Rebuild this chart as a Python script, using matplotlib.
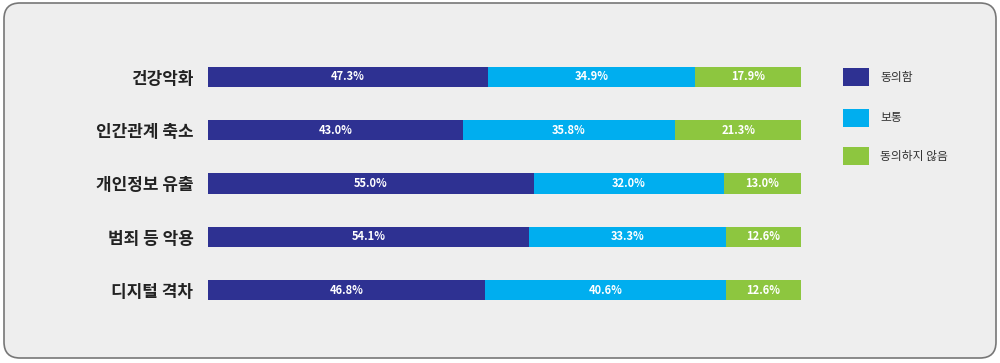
import numpy as np
import matplotlib
matplotlib.use('Agg')
import matplotlib.pyplot as plt
from matplotlib.patches import FancyBboxPatch, Rectangle
from matplotlib.transforms import IdentityTransform

plt.rcParams['font.family'] = ['Noto Sans CJK KR', 'DejaVu Sans']

# data
categories = ['건강악화', '인간관계 축소', '개인정보 유출', '범죄 등 악용', '디지털 격차']
agree = [47.3, 43.0, 55.0, 54.1, 46.8]
neutral = [34.9, 35.8, 32.0, 33.3, 40.6]
disagree = [17.9, 21.3, 13.0, 12.6, 12.6]
series_names = ['동의함', '보통', '동의하지 않음']
colors = ['#2e3192', '#00aeef', '#8dc63f']

fig = plt.figure(figsize=(10, 3.63), dpi=100)
fig.patch.set_facecolor('white')

# rounded background panel (pixel coords)
panel = FancyBboxPatch((4, 5), 992, 355, boxstyle='round,pad=0,rounding_size=16',
                       transform=IdentityTransform(), facecolor='#eeeeee',
                       edgecolor='#777777', linewidth=1.2, zorder=-10)
fig.patches.append(panel)

ax = fig.add_axes([0.208, (363 - 317) / 363, 0.593, 267 / 363])
ax.set_facecolor('none')
ax.set_zorder(1)
y = np.arange(len(categories))
h = 0.376
left = np.zeros(len(categories))
for vals, col in zip([agree, neutral, disagree], colors):
    vals = np.array(vals)
    ax.barh(y, vals, left=left, height=h, color=col, edgecolor='none')
    for yi, l, v in zip(y, left, vals):
        ax.text(l + v / 2, yi, f'{v:.1f}%', ha='center', va='center',
                color='white', fontsize=8, fontweight='bold')
    left = left + vals

ax.set_xlim(0, 100.05)
ax.set_ylim(len(categories) - 0.493, -0.507)
ax.set_yticks(y)
ax.set_yticklabels(categories, fontsize=12.2, fontweight='bold', color='#222222')
ax.tick_params(axis='y', length=0, pad=10.5)
ax.set_xticks([])
for s in ax.spines.values():
    s.set_visible(False)

# legend
leg_y = [77, 118, 156]
for name, col, ly in zip(series_names, colors, leg_y):
    fig.patches.append(Rectangle((843, 363 - ly - 9), 26, 18, transform=IdentityTransform(),
                                 facecolor=col, edgecolor='none', zorder=2))
    fig.text(880 / 1000, (363 - ly) / 363, name, ha='left', va='center',
             fontsize=8.5, color='#333333')

fig.savefig('out.png', dpi=100)
